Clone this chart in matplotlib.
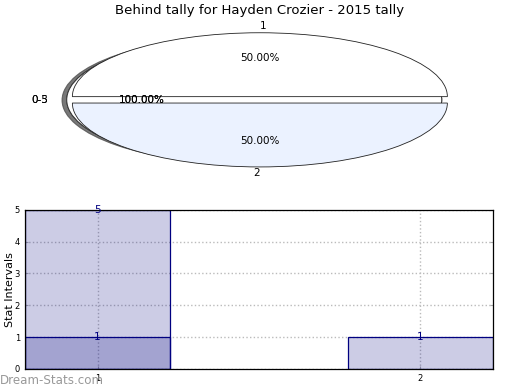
import numpy as np
import matplotlib
matplotlib.use('Agg')
import matplotlib.pyplot as plt

# pie data
pie_labels = ['1', '2']
pie_values = [1, 1]
pie_colors = ['#ffffff', '#ebf2ff']
full_labels = ['0-5', '0-3']
full_values = [1]

# histogram style data
bar_x = [1, 2]
tall_heights = [5]
short_heights = [1, 1]
x_ticks = [1, 2]
y_ticks = [0, 1, 2, 3, 4, 5]

fig = plt.figure(figsize=(5.2, 3.9), dpi=100)
fig.text(0.5, 0.973, 'Behind tally for Hayden Crozier - 2015 tally', ha='center', va='center', fontsize=9.5)

# --- squashed pie on top ---
ax1 = fig.add_axes([0.031, 0.531, 0.9375, 0.426])
for lab in full_labels:
    # full 100% wedges sit a bit left, under the two halves
    ax1.pie(full_values, labels=[lab], colors=['#ffffff'], autopct='%.2f%%',
            center=(-0.03, 0),
            shadow={'ox': -0.018, 'oy': -0.004, 'shade': 0.7},
            wedgeprops={'edgecolor': '#333333', 'linewidth': 0.7},
            textprops={'fontsize': 7.5})
w, t, a = ax1.pie(pie_values, labels=pie_labels, colors=pie_colors, autopct='%.2f%%',
                  explode=[0.05, 0.05],
                  wedgeprops={'edgecolor': '#222222', 'linewidth': 0.6},
                  textprops={'fontsize': 7.5})
t[0].set_ha('left')
t[1].set_ha('right')
ax1.set_aspect('auto')
ax1.set_xlim(-1.3, 1.3)
ax1.set_ylim(-1.3, 1.3)
ax1.axis('off')

# --- bars below ---
ax2 = fig.add_axes([0.048, 0.054, 0.9, 0.408])
ax2.bar(bar_x[:1], tall_heights, width=0.45, color='navy', alpha=0.2)
ax2.bar(bar_x[:1], tall_heights, width=0.45, fill=False, edgecolor='navy', linewidth=0.9)
ax2.bar(bar_x, short_heights, width=0.45, color='navy', alpha=0.2)
ax2.bar(bar_x, short_heights, width=0.45, fill=False, edgecolor='navy', linewidth=0.9)
for x, h in zip(bar_x, tall_heights):
    ax2.text(x, h, str(h), ha='center', va='center', color='navy', fontsize=7.5)
for x, h in zip(bar_x, short_heights):
    ax2.text(x, h, str(h), ha='center', va='center', color='navy', fontsize=7.5)

ax2.set_xlim(0.775, 2.225)
ax2.set_ylim(0, 5)
ax2.set_xticks(x_ticks)
ax2.set_yticks(y_ticks)
ax2.tick_params(labelsize=6, length=2, color='#aaaaaa', right=True, direction='in')
ax2.grid(True, linestyle=':', color='#bbbbbb', linewidth=1)
ax2.set_axisbelow(True)
for s in ax2.spines.values():
    s.set_linewidth(0.9)
ax2.set_xlabel('Frequency', fontsize=8, labelpad=6)
ax2.set_ylabel('Stat Intervals', fontsize=8)
ax2.yaxis.set_label_coords(-0.022, 0.5)

fig.text(0.0, 0.025, 'Dream-Stats.com', color='#999999', fontsize=8.6, ha='left', va='center')

fig.savefig('out.png', dpi=100)
